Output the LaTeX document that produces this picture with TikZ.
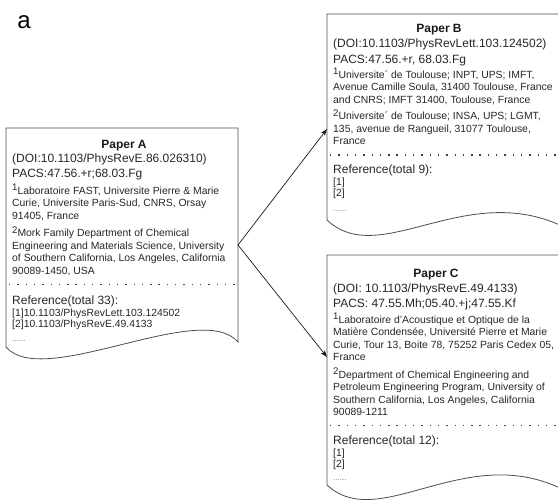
\documentclass[tikz,border=0pt]{standalone}
\usepackage{fontspec}
\setmainfont{Liberation Sans}
\usetikzlibrary{arrows.meta}

\newcommand{\bigtxt}{\fontsize{12}{14}\selectfont}
\newcommand{\smalltxt}{\fontsize{10.4}{12}\selectfont}
\newcommand{\affnum}[1]{\raisebox{3.2pt}{\fontsize{9.6}{10}\selectfont #1}}

\begin{document}
\begin{tikzpicture}[x=1pt,y=-1pt,
  paper/.style={draw=black!70,line width=0.8pt},
  sep/.style={draw=black!75,line width=1.4pt,dash pattern=on 1.4pt off 6.9pt},
  title/.style={anchor=base,inner sep=0pt,font=\bigtxt\bfseries,text=black!90},
  big/.style={anchor=base west,inner sep=0pt,font=\bigtxt,text=black!85},
  small/.style={anchor=base west,inner sep=0pt,font=\smalltxt,text=black!85},
  more/.style={anchor=base west,inner sep=0pt,font=\fontsize{8}{9}\selectfont,text=black!55},
  link/.style={draw=black!90,line width=0.7pt,-{Stealth[length=7pt,width=5pt]}}]
\clip (0,0) rectangle (558,499);
\node[anchor=base,inner sep=0pt,font=\fontsize{24}{26}\selectfont] (label) at (24,28) {a};

% Paper A
\draw[paper] (6,347) -- (6,128) -- (238,128) -- (238,342)
  .. controls (201,299) and (43,390) .. (6,347);
\node[title] (a-title) at (124,148) {Paper A};
\node[big] (a-doi) at (12,162.5) {(DOI:10.1103/PhysRevE.86.026310)};
\node[big] (a-pacs) at (12,177.5) {PACS:47.56.+r;68.03.Fg};
\foreach \t [count=\i from 0] in {{\affnum{1}Laboratoire FAST, Universite Pierre \& Marie},
  {Curie, Universite Paris-Sud, CNRS, Orsay},{91405, France}}
  \node[small] (a-one-\i) at (12,194+12.6*\i) {\t};
\foreach \t [count=\i from 0] in {{\affnum{2}Mork Family Department of Chemical},
  {Engineering and Materials Science, University},
  {of Southern California, Los Angeles, California},{90089-1450, USA}}
  \node[small] (a-two-\i) at (12,236.5+12.6*\i) {\t};
\draw[sep] (9,284.5) -- (238,284.5);
\node[big] (a-ref) at (12,304) {Reference(total 33):};
\node[small] (a-r1) at (12,316) {[1]10.1103/PhysRevLett.103.124502};
\node[small] (a-r2) at (12,327) {[2]10.1103/PhysRevE.49.4133};
\node[more] (a-etc) at (12,341) {......};
\coordinate (a-out) at (238,245);

% Paper B
\draw[paper] (327,220) -- (327,14) -- (566,14) -- (566,228)
  .. controls (467,178) and (380,270) .. (327,220);
\node[title] (b-title) at (439,32) {Paper B};
\node[big] (b-doi) at (333,47.5) {(DOI:10.1103/PhysRevLett.103.124502)};
\node[big] (b-pacs) at (333,63) {PACS:47.56.+r, 68.03.Fg};
\foreach \t [count=\i from 0] in {{\affnum{1}Universite´ de Toulouse; INPT, UPS; IMFT,},
  {Avenue Camille Soula, 31400 Toulouse, France},{and CNRS; IMFT 31400, Toulouse, France}}
  \node[small] (b-one-\i) at (333,78+12.6*\i) {\t};
\foreach \t [count=\i from 0] in {{\affnum{2}Universite´ de Toulouse; INSA, UPS; LGMT,},
  {135, avenue de Rangueil, 31077 Toulouse,},{France}}
  \node[small] (b-two-\i) at (333,119.5+12.6*\i) {\t};
\draw[sep] (330,155) -- (566,155);
\node[big] (b-ref) at (333,173.5) {Reference(total 9):};
\node[small] (b-r1) at (333,185) {[1]};
\node[small] (b-r2) at (333,196) {[2]};
\node[more] (b-etc) at (333,211) {......};
\coordinate (b-in) at (327,129);

% Paper C
\draw[paper] (327,485) -- (327,255) -- (566,255) -- (566,491)
  .. controls (467,439) and (380,534) .. (327,485);
\node[title] (c-title) at (436,277) {Paper C};
\node[big] (c-doi) at (333,292) {(DOI: 10.1103/PhysRevE.49.4133)};
\node[big] (c-pacs) at (333,307.5) {PACS: 47.55.Mh;05.40.+j;47.55.Kf};
\foreach \t [count=\i from 0] in {{\affnum{1}Laboratoire d'Acoustique et Optique de la},
  {Matière Condensée, Université Pierre et Marie},
  {Curie, Tour 13, Boite 78, 75252 Paris Cedex 05,},{France}}
  \node[small] (c-one-\i) at (333,323+12.6*\i) {\t};
\foreach \t [count=\i from 0] in {{\affnum{2}Department of Chemical Engineering and},
  {Petroleum Engineering Program, University of},
  {Southern California, Los Angeles, California},{90089-1211}}
  \node[small] (c-two-\i) at (333,378+12.6*\i) {\t};
\draw[sep] (330,425.5) -- (566,425.5);
\node[big] (c-ref) at (333,444) {Reference(total 12):};
\node[small] (c-r1) at (333,456) {[1]};
\node[small] (c-r2) at (333,467) {[2]};
\node[more] (c-etc) at (333,480) {......};
\coordinate (c-in) at (327,357);

\draw[link] (a-out) -- (b-in);
\draw[link] (a-out) -- (c-in);
\end{tikzpicture}
\end{document}
